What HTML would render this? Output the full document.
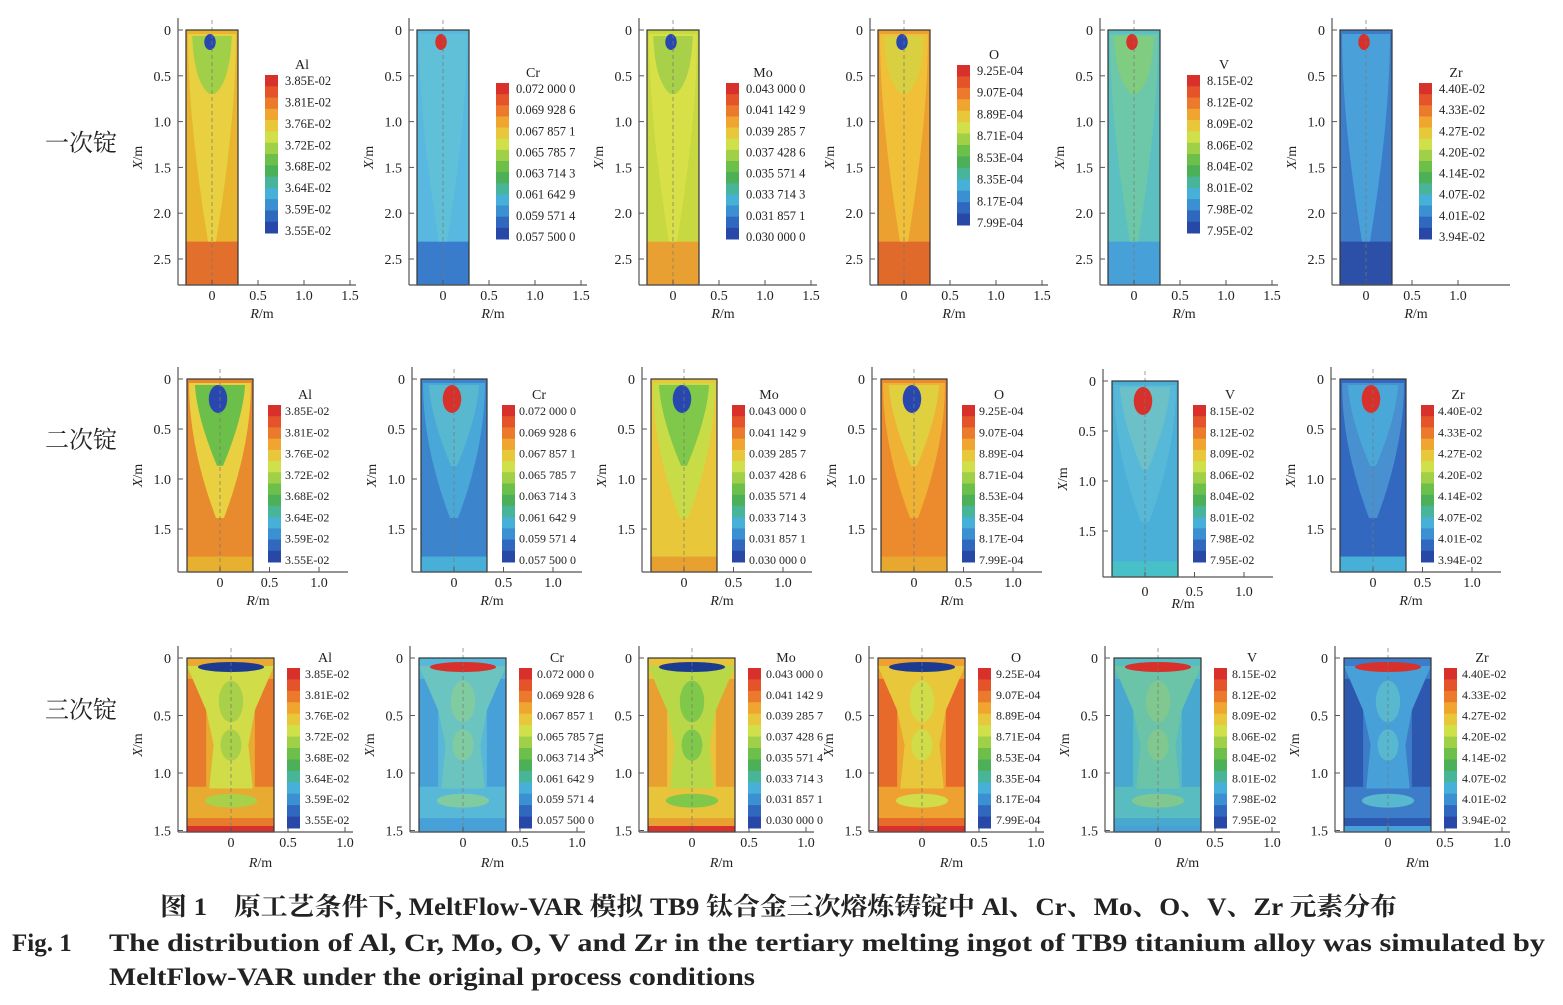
<!DOCTYPE html>
<html><head><meta charset="utf-8"><style>
body{margin:0;background:#fff}
svg{display:block}
text{font-family:"Liberation Serif","Noto Serif CJK SC",serif;fill:#222}
</style></head><body>
<svg id="s" width="1563" height="1005" viewBox="0 0 1563 1005" xmlns="http://www.w3.org/2000/svg">
<text x="45" y="151" font-size="24" font-family="Noto Serif CJK SC, serif">一次锭</text>
<text x="45" y="448" font-size="24" font-family="Noto Serif CJK SC, serif">二次锭</text>
<text x="45" y="718" font-size="24" font-family="Noto Serif CJK SC, serif">三次锭</text>
<text x="160" y="915" font-size="25" font-weight="bold" textLength="1237" lengthAdjust="spacingAndGlyphs">图 1　原工艺条件下, MeltFlow-VAR 模拟 TB9 钛合金三次熔炼铸锭中 Al、Cr、Mo、O、V、Zr 元素分布</text>
<text x="12" y="951" font-size="25" font-weight="bold">Fig. 1</text>
<text x="109" y="951" font-size="25" font-weight="bold" textLength="1436" lengthAdjust="spacingAndGlyphs">The distribution of Al, Cr, Mo, O, V and Zr in the tertiary melting ingot of TB9 titanium alloy was simulated by</text>
<text x="109" y="985" font-size="25" font-weight="bold" textLength="646" lengthAdjust="spacingAndGlyphs">MeltFlow-VAR under the original process conditions</text>
</svg>
<script>
var NS="http://www.w3.org/2000/svg",S=document.getElementById('s');
function el(t,a,txt){var e=document.createElementNS(NS,t);for(var k in a)e.setAttribute(k,a[k]);if(txt!=null)e.textContent=txt;S.appendChild(e);return e;}
var LEG={
Al:["3.85E-02","3.81E-02","3.76E-02","3.72E-02","3.68E-02","3.64E-02","3.59E-02","3.55E-02"],
Cr:["0.072 000 0","0.069 928 6","0.067 857 1","0.065 785 7","0.063 714 3","0.061 642 9","0.059 571 4","0.057 500 0"],
Mo:["0.043 000 0","0.041 142 9","0.039 285 7","0.037 428 6","0.035 571 4","0.033 714 3","0.031 857 1","0.030 000 0"],
O:["9.25E-04","9.07E-04","8.89E-04","8.71E-04","8.53E-04","8.35E-04","8.17E-04","7.99E-04"],
V:["8.15E-02","8.12E-02","8.09E-02","8.06E-02","8.04E-02","8.01E-02","7.98E-02","7.95E-02"],
Zr:["4.40E-02","4.33E-02","4.27E-02","4.20E-02","4.14E-02","4.07E-02","4.01E-02","3.94E-02"]};
var BAR=["#d8302a","#e5532a","#ec7a2c","#efa530","#e8c83a","#cfe04a","#9fd048","#6cc04a","#4cb058","#48b498","#46b0d8","#3a90d0","#3068c0","#2848a8"];
var names=["Al","Cr","Mo","O","V","Zr"];
var PAL=[
[["#e9b42e","#e2702c","#e8d040","#a0d048","#2848b0"],["#58b8e0","#3a7ccc","#60c0d8","#60c0d8","#d8302a"],["#c8d840","#e8a032","#d8e048","#a8d048","#2848b0"],["#eca030","#e06a2a","#f0c038","#d8d040","#2848b0"],["#5cc0c0","#48a0d8","#6cc8a8","#80cc80","#d8302a"],["#3c7cc8","#2c50a8","#4aa0d8","#4aa0d8","#d8302a"]],
[["#e88a2e","#e8b030","#e8d040","#6cc04a","#2848b0"],["#3c84cc","#48b0d8","#4aa8d8","#58b8d0","#d8302a"],["#e8c83a","#e8a030","#c8dc48","#80c84a","#2848b0"],["#ec8a2e","#e8a830","#efb234","#e0d040","#2848b0"],["#4ab0d8","#48c0c8","#58b8d8","#6cc0c8","#d8302a"],["#3268c0","#46b0d8","#4890d0","#4aa8d8","#d8302a"]],
[["#e8aa30","#e87a2c","#d0dc48","#a8d048","#1c3a90"],["#58b8d8","#48a0d8","#6cc4c0","#80cca0","#d8302a"],["#e8c43a","#e8a030","#b8d848","#80c84a","#1c3a90"],["#eea030","#e86a2a","#e8c83a","#d0dc48","#1c3a90"],["#58bcc0","#48a8d0","#6cc4a8","#80c890","#d8302a"],["#3c7cc8","#2c58b0","#48a0d8","#58b8d0","#d8302a"]]];
var ROWS=[
{x0:[212,443,673,904,1134,1366],y0:30,yp:91.6,xp:92,ay:285,yl:["0","0.5","1.0","1.5","2.0","2.5"],xl:["0","0.5","1.0","1.5"],il:26,ir:26,pl:34,pr:144,top:12,lb:[53,75,233],lt:[90,64],lx:73,xly:300,rly:318,fs:12.5},
{x0:[220,454,684,914,1145,1373],y0:379,yp:100,xp:99,ay:572,yl:["0","0.5","1.0","1.5"],xl:["0","0.5","1.0"],il:33,ir:33,pl:42,pr:128,top:20,lb:[48,405,562],lt:[85,395],lx:65,xly:587,rly:605,fs:12},
{x0:[231,463,692,922,1158,1388],y0:658,yp:115,xp:114,ay:832,yl:["0","0.5","1.0","1.5"],xl:["0","0.5","1.0"],il:44,ir:43,pl:53,pr:122,top:20,lb:[56,668,828],lt:[94,660],lx:74,xly:850,rly:867,fs:12}];
ROWS.forEach(function(R,ri){
 R.x0.forEach(function(x0,ci){
  var y0=R.y0,ay=R.ay,c=PAL[ri][ci];
  if(ri==1&&ci==4){y0+=2;ay+=5;}
  var L=x0-R.il,Rt=x0+R.ir,H=ay-y0,W=Rt-L;
  var ax=x0-R.pl,axr=x0+R.pr;
  el('rect',{x:L,y:y0,width:W,height:H,fill:c[0]});
  el('rect',{x:L,y:ay-H*(ri==0?0.17:0.08),width:W,height:H*(ri==0?0.17:0.08),fill:c[1]});
  if(ri==2){
   el('rect',{x:L,y:y0+H*0.12,width:W*0.22,height:H*0.62,fill:c[1]});
   el('rect',{x:Rt-W*0.22,y:y0+H*0.12,width:W*0.22,height:H*0.62,fill:c[1]});
   el('path',{d:'M'+L+' '+(y0+8)+' L'+Rt+' '+(y0+8)+' L'+(Rt-W*0.22)+' '+(y0+H*0.3)+' L'+(x0+W*0.2)+' '+(y0+H*0.5)+' L'+(x0+W*0.25)+' '+(y0+H*0.75)+' L'+(x0-W*0.25)+' '+(y0+H*0.75)+' L'+(x0-W*0.2)+' '+(y0+H*0.5)+' L'+(L+W*0.22)+' '+(y0+H*0.3)+' Z',fill:c[2]});
   el('ellipse',{cx:x0,cy:y0+H*0.25,rx:W*0.14,ry:H*0.12,fill:c[3]});
   el('ellipse',{cx:x0,cy:y0+H*0.5,rx:W*0.12,ry:H*0.09,fill:c[3]});
   el('ellipse',{cx:x0,cy:y0+H*0.82,rx:W*0.3,ry:H*0.04,fill:c[3]});
   el('rect',{x:L,y:ay-6,width:W,height:6,fill:c[4]=="#d8302a"?"#48a0d8":"#d8302a"});
   el('ellipse',{cx:x0,cy:y0+9,rx:W*0.38,ry:5,fill:c[4]=="#d8302a"?"#d8302a":"#1c3a90"});
  }else{
   var d=ri==0?0.83:0.72;
   el('path',{d:'M'+(L+2)+' '+(y0+4)+' L'+(Rt-2)+' '+(y0+4)+' Q'+(Rt-2)+' '+(y0+H*0.35)+' '+(x0+4)+' '+(y0+H*d)+' L'+(x0-4)+' '+(y0+H*d)+' Q'+(L+2)+' '+(y0+H*0.35)+' '+(L+2)+' '+(y0+4)+' Z',fill:c[2]});
   el('path',{d:'M'+(L+W*0.12)+' '+(y0+6)+' L'+(Rt-W*0.12)+' '+(y0+6)+' Q'+(Rt-W*0.15)+' '+(y0+H*0.2)+' '+(x0+3)+' '+(y0+H*(ri==0?0.25:0.45))+' L'+(x0-3)+' '+(y0+H*(ri==0?0.25:0.45))+' Q'+(L+W*0.15)+' '+(y0+H*0.2)+' '+(L+W*0.12)+' '+(y0+6)+' Z',fill:c[3]});
   el('ellipse',{cx:x0-2,cy:y0+R.top,rx:W*(ri==0?0.11:0.14),ry:ri==0?8:14,fill:c[4]});
  }
  el('line',{x1:x0,y1:y0-10,x2:x0,y2:ay,stroke:'#777','stroke-width':0.7,'stroke-dasharray':'4 3'});
  el('rect',{x:L,y:y0,width:W,height:H,fill:'none',stroke:'#333','stroke-width':1.2});
  el('line',{x1:ax,y1:y0-12,x2:ax,y2:ay,stroke:'#555','stroke-width':1.2});
  el('line',{x1:ax,y1:ay,x2:axr,y2:ay,stroke:'#555','stroke-width':1.2});
  R.yl.forEach(function(t,i){var y=y0+i*0.5*R.yp;el('line',{x1:ax,y1:y,x2:ax+5,y2:y,stroke:'#555'});el('text',{x:ax-7,y:y+5,'font-size':14,'text-anchor':'end'},t);});
  R.xl.forEach(function(t,i){var x=x0+i*0.5*R.xp;if(ri==0&&ci==5&&i==3)return;el('line',{x1:x,y1:ay,x2:x,y2:ay-5,stroke:'#555'});el('text',{x:x,y:ay+(ri==1&&ci==4?19:15),'font-size':14,'text-anchor':'middle'},t);});
  var ym=(y0+ay)/2;
  el('text',{x:0,y:0,'font-size':14,transform:'translate('+(ax-36)+','+ym+') rotate(-90)','text-anchor':'middle'}).innerHTML='<tspan font-style="italic">X</tspan>/m';
  el('text',{x:(ax+axr)/2-5,y:(ri==1&&ci==4?R.rly+3:R.rly),'font-size':14,'text-anchor':'middle'}).innerHTML='<tspan font-style="italic">R</tspan>/m';
  var bx=x0+R.lb[0],bt=R.lb[1],bb=R.lb[2];
  if(ri==0&&(ci==1||ci==2||ci==5)){bt+=8;bb+=6;}
  if(ri==0&&ci==3){bt-=10;bb-=8;}
  var n=BAR.length,h=(bb-bt)/n;
  BAR.forEach(function(col,i){el('rect',{x:bx,y:bt+i*h,width:13,height:h+0.5,fill:col});});
  var labs=LEG[names[ci]];
  var sp=(ri==2)?(bb-bt-14)/7:(bb-bt-8)/7;
  labs.forEach(function(t,i){el('text',{x:x0+R.lx,y:bt+10+i*sp,'font-size':R.fs},t);});
  el('text',{x:x0+R.lt[0],y:bt-6,'font-size':14,'text-anchor':'middle'},names[ci]);
 });
});
</script>
</body></html>
